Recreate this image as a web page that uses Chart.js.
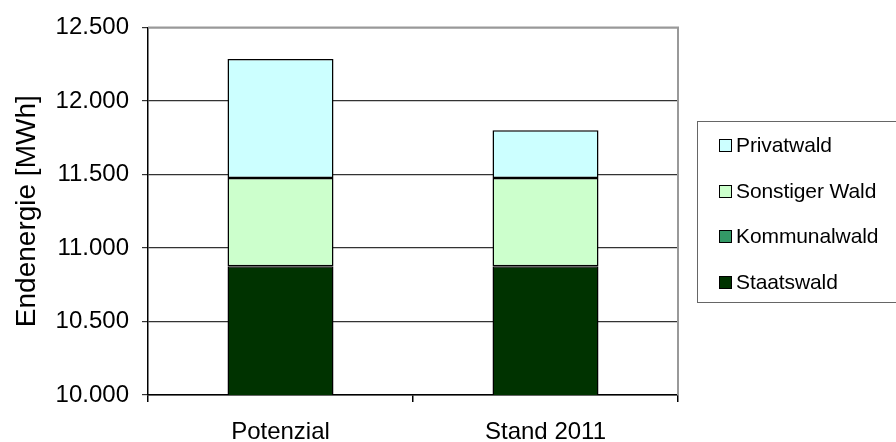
<!DOCTYPE html>
<html>
<head>
<meta charset="utf-8">
<script src="https://cdn.jsdelivr.net/npm/chart.js@4"></script>
<style>
  body { margin: 0; background: #fff; }
  #wrap { position: relative; width: 896px; height: 442px; overflow: hidden; }
  #legend {
    position: absolute; left: 697px; top: 121px; width: 210px; height: 182px;
    border: 1.5px solid #666; border-right: none; box-sizing: border-box;
    font-family: "Liberation Sans", Arial, sans-serif; font-size: 21px; color: #000;
  }
  .item { position: absolute; left: 21px; height: 22px; line-height: 22px; letter-spacing: -0.1px; white-space: nowrap; }
  .box { display: inline-block; width: 11px; height: 11px; border: 1.2px solid #000; margin-right: 4px; vertical-align: 0px; }
</style>
</head>
<body>
<div id="wrap">
  <canvas id="barChart" width="896" height="442"></canvas>
  <div id="legend"></div>
</div>
<script>
// Kategorien und Werte (MWh)
var categories = ["Potenzial", "Stand 2011"];
var staatswald = [10875, 10875];
var kommunalwald = [0, 0];
var sonstigerWald = [600, 600];
var privatwald = [810, 325];
var yTicks = [10000, 10500, 11000, 11500, 12000, 12500];

var series = [
  { label: "Staatswald", data: staatswald, color: "#003300" },
  { label: "Kommunalwald", data: kommunalwald, color: "#339966" },
  { label: "Sonstiger Wald", data: sonstigerWald, color: "#CCFFCC" },
  { label: "Privatwald", data: privatwald, color: "#CCFFFF" }
];

var font = "'Liberation Sans', Arial, sans-serif";

// Rahmen oben und rechts (grau)
var frame = {
  id: "frame",
  afterDraw: function (chart) {
    var a = chart.chartArea, c = chart.ctx;
    c.save();
    c.strokeStyle = "#999";
    c.lineWidth = 2;
    c.beginPath();
    c.moveTo(a.left, a.top);
    c.lineTo(a.right, a.top);
    c.lineTo(a.right, a.bottom);
    c.stroke();
    c.restore();
  }
};

var ctx = document.getElementById("barChart").getContext("2d");
var chart = new Chart(ctx, {
  type: "bar",
  data: {
    labels: categories,
    datasets: series.map(function (s) {
      return {
        label: s.label,
        data: s.data,
        backgroundColor: s.color,
        borderColor: "#000",
        borderWidth: 1.5,
        borderSkipped: false,
        categoryPercentage: 1,
        barPercentage: 0.4
      };
    })
  },
  options: {
    responsive: false,
    animation: false,
    layout: { padding: { top: 27, right: 218, left: 0, bottom: 0 } },
    plugins: { legend: { display: false }, tooltip: { enabled: false } },
    scales: {
      x: {
        stacked: true,
        afterFit: function (s) { s.height = 47; },
        grid: { offset: true, drawOnChartArea: false, tickLength: 7, color: "#000", lineWidth: 1.5 },
        border: { color: "#000", width: 1.5 },
        ticks: { color: "#000", font: { family: font, size: 24 }, padding: 16 }
      },
      y: {
        stacked: true,
        min: 10000,
        max: 12500,
        afterFit: function (s) { s.width = 148; },
        afterBuildTicks: function (s) { s.ticks = yTicks.map(function (v) { return { value: v }; }); },
        grid: { color: "#333", lineWidth: 1.2, tickLength: 6 },
        border: { color: "#000", width: 1.5 },
        ticks: {
          color: "#000",
          font: { family: font, size: 24 },
          padding: 13,
          callback: function (v) { return v.toLocaleString("de-DE"); }
        },
        title: { display: true, text: "Endenergie [MWh]", color: "#000", font: { family: font, size: 28 }, padding: { top: 10, bottom: 0 } }
      }
    }
  },
  plugins: [frame]
});

// Legende (umgekehrte Reihenfolge wie im Original)
var legend = document.getElementById("legend");
var order = series.slice().reverse();
order.forEach(function (s, i) {
  var d = document.createElement("div");
  d.className = "item";
  d.style.top = (12 + i * 45.7) + "px";
  d.innerHTML = '<span class="box" style="background:' + s.color + '"></span>' + s.label;
  legend.appendChild(d);
});
</script>
</body>
</html>
